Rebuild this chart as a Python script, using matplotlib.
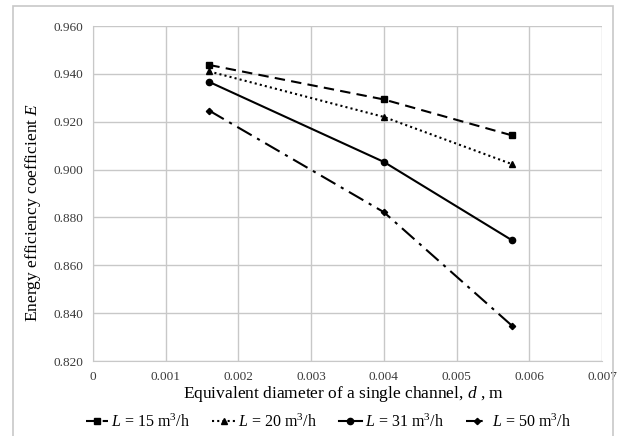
import matplotlib
matplotlib.use("Agg")
import matplotlib.pyplot as plt
from matplotlib.patches import Rectangle

plt.rcParams['font.family'] = ['Liberation Serif', 'DejaVu Serif']
plt.rcParams['mathtext.fontset'] = 'custom'
plt.rcParams['mathtext.rm'] = 'Liberation Serif'
plt.rcParams['mathtext.it'] = 'Liberation Serif:italic'

diameters = [0.0016, 0.0040, 0.00576]
E_15 = [0.9437, 0.9293, 0.9143]
E_20 = [0.9410, 0.9220, 0.9023]
E_31 = [0.9366, 0.9032, 0.8705]
E_50 = [0.9246, 0.8822, 0.8348]
labels = [r"$L$ = 15 m$^3$/h", r"$L$ = 20 m$^3$/h", r"$L$ = 31 m$^3$/h", r"$L$ = 50 m$^3$/h"]
xticks = [0, 0.001, 0.002, 0.003, 0.004, 0.005, 0.006, 0.007]
xticklabels = ["0", "0.001", "0.002", "0.003", "0.004", "0.005", "0.006", "0.007"]
yticks = [0.82, 0.84, 0.86, 0.88, 0.90, 0.92, 0.94, 0.96]
yticklabels = ["0.820", "0.840", "0.860", "0.880", "0.900", "0.920", "0.940", "0.960"]

fig = plt.figure(figsize=(6.24, 4.36), dpi=100)
fig.patches.append(Rectangle((13/624, -0.05), (613-13)/624, (436-6)/436 + 0.05,
                             transform=fig.transFigure, fill=False,
                             edgecolor='#c8c8c8', linewidth=1.2))
ax = fig.add_axes([93/624, 1 - 361/436, (602-93)/624, (361-26)/436])

styles = [
    dict(linestyle=(0, (5, 3)), marker='s', markersize=4.5),
    dict(linestyle=(0, (1, 1.5)), marker='^', markersize=4.5),
    dict(linestyle='-', marker='o', markersize=4.5),
    dict(linestyle=(0, (8, 3, 1.5, 3)), marker='D', markersize=3.2),
]
for ys, lab, st in zip([E_15, E_20, E_31, E_50], labels, styles):
    ax.plot(diameters, ys, color='black', linewidth=1.5, label=lab, **st)

ax.set_xlim(0, 0.007)
ax.set_ylim(0.82, 0.96)
ax.set_xticks(xticks)
ax.set_xticklabels(xticklabels, fontsize=9.5, color='#3a3a3a')
ax.set_yticks(yticks)
ax.set_yticklabels(yticklabels, fontsize=9.5, color='#3a3a3a')
ax.tick_params(length=0, pad=7)
ax.grid(True, color='#c8c8c8', linewidth=1)
for s in ax.spines.values():
    s.set_color('#c8c8c8')
ax.spines['top'].set_visible(False)
ax.spines['right'].set_visible(False)
ax.set_axisbelow(True)

ax.set_xlabel(r"Equivalent diameter of a single channel, $d$ , m", fontsize=12.5)
ax.xaxis.set_label_coords((344 - 93) / 509, (361 - 394) / 335)
ax.xaxis.label.set_va('center')
ax.set_ylabel(r"Energy efficiency coefficient $E$", fontsize=12.5)
ax.yaxis.set_label_coords((33 - 93) / 509, (361 - 212) / 335)
ax.yaxis.label.set_va('center')

fig.legend(loc='center', bbox_to_anchor=(328/624, 1 - 422/436), ncol=4, frameon=False,
           fontsize=11.5, handlelength=1.4, handletextpad=0.2, columnspacing=1.4,
           borderpad=0)

fig.savefig("out.png", dpi=100)
